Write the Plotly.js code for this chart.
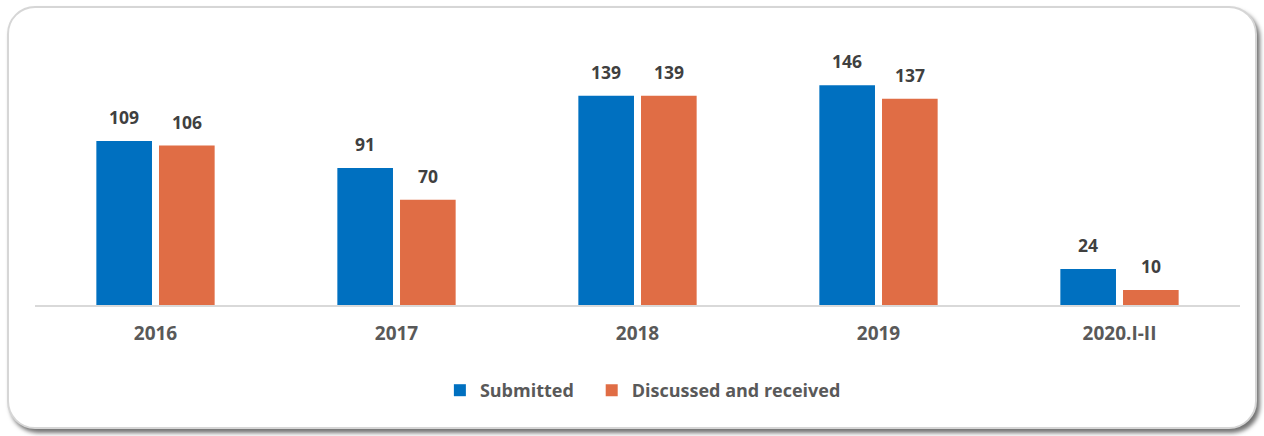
<!DOCTYPE html>
<html><head><meta charset="utf-8">
<script src="https://cdn.plot.ly/plotly-3.0.1.min.js"></script>
<style>
html,body{margin:0;padding:0;background:#fff;width:1264px;height:436px;overflow:hidden;}
#frame{position:absolute;left:7px;top:6px;width:1246px;height:419px;border:2px solid #d6d6d6;border-radius:28px;box-shadow:3px 4px 4px rgba(0,0,0,0.55);background:#fff;}
#chart{position:absolute;left:0;top:0;width:1264px;height:436px;}
</style></head>
<body><div id="frame"></div><div id="chart"></div>
<script>
const categories = ["2016", "2017", "2018", "2019", "2020.I-II"];
const submitted = [109, 91, 139, 146, 24];
const discussed = [106, 70, 139, 137, 10];
const seriesNames = ["Submitted", "Discussed and received"];

const colors = ["#0070C0", "#E06D45"];
const labelFont = {family: "Open Sans, sans-serif", size: 17.5, color: "#404040", weight: 700};
const legendFont = {family: "Open Sans, sans-serif", size: 18, color: "#595959", weight: 700};

const traces = [
  {type: "bar", name: seriesNames[0], x: categories, y: submitted, marker: {color: colors[0]}, legend: "legend"},
  {type: "bar", name: seriesNames[1], x: categories, y: discussed, marker: {color: colors[1]}, legend: "legend2"}
];

const off = 0.13;
const annotations = [];
[submitted, discussed].forEach((arr, s) => {
  arr.forEach((v, i) => {
    annotations.push({x: i + (s === 0 ? -off : off), y: v, xref: "x", yref: "y",
      text: "<b>" + v + "</b>", showarrow: false, yanchor: "bottom", yshift: 10, font: labelFont});
  });
});

const layout = {
  width: 1264, height: 436,
  paper_bgcolor: "rgba(0,0,0,0)", plot_bgcolor: "rgba(0,0,0,0)",
  margin: {l: 35, r: 24, t: 20, b: 131},
  barmode: "group", bargap: 0.48, bargroupgap: 0.112,
  showlegend: true,
  legend: {orientation: "h", x: 0.336, xanchor: "left", y: -0.3, yanchor: "middle",
    font: legendFont, itemwidth: 30},
  legend2: {orientation: "h", x: 0.462, xanchor: "left", y: -0.3, yanchor: "middle",
    font: legendFont, itemwidth: 30},
  xaxis: {type: "category", showline: true, linecolor: "#d9d9d9", linewidth: 1.5,
    ticks: "", showgrid: false, ticklabelstandoff: 11,
    tickfont: {family: "Open Sans, sans-serif", size: 19, color: "#595959", weight: 700}},
  yaxis: {range: [0, 189.4], visible: false, showgrid: false, zeroline: false},
  annotations: annotations
};

Plotly.newPlot("chart", traces, layout, {displayModeBar: false, staticPlot: true});
</script></body></html>
